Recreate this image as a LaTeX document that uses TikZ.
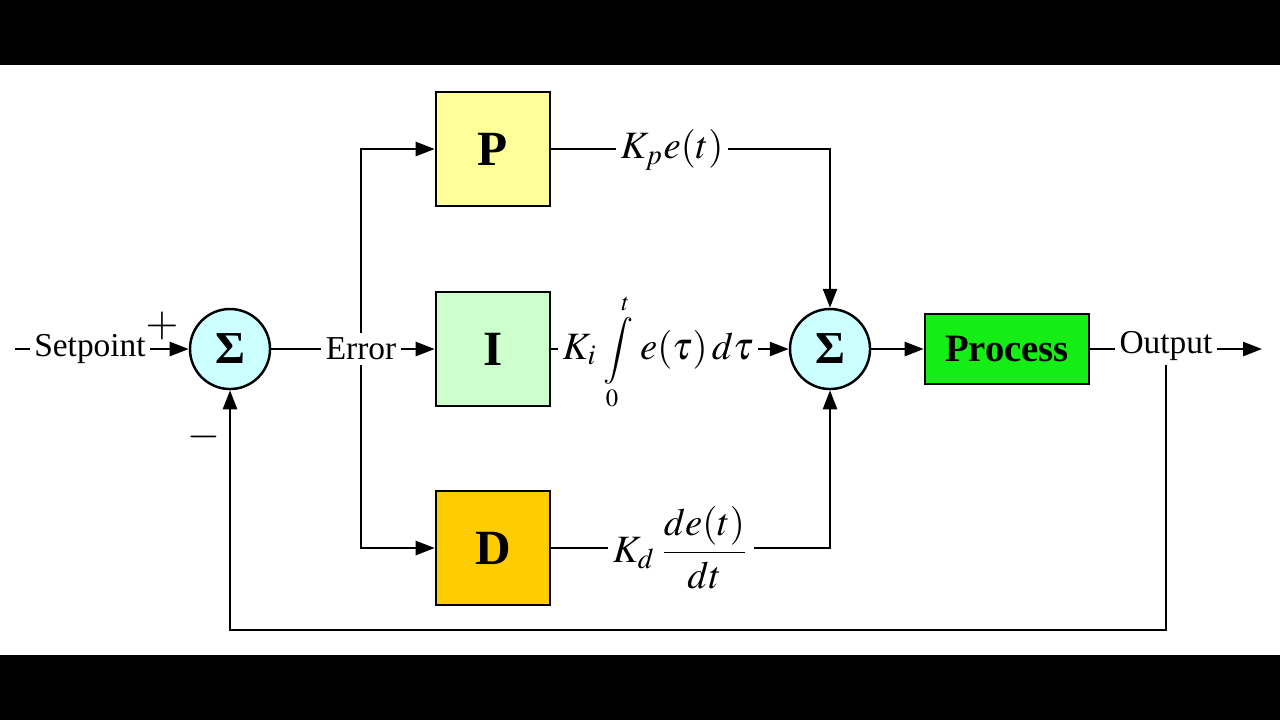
\documentclass[tikz,border=0pt]{standalone}
\usepackage{amsmath}
\usepackage{mathptmx}
\usepackage{fontspec}
\setmainfont{Liberation Serif}
\usetikzlibrary{arrows.meta}

\definecolor{sumcyan}{RGB}{204,255,255}
\definecolor{pyellow}{RGB}{255,255,153}
\definecolor{igreen}{RGB}{204,255,204}
\definecolor{dorange}{RGB}{255,204,0}
\definecolor{procgreen}{RGB}{20,238,20}

\begin{document}
\begin{tikzpicture}[x=0.01cm, y=-0.01cm, line width=0.7pt,
        >={Triangle[length=0.19cm,width=0.14cm]},
        sumnode/.style={circle, draw, fill=sumcyan, minimum size=0.8cm, inner sep=0pt,
            font=\bfseries\fontsize{13}{15}\selectfont},
        block/.style={draw, minimum width=1.14cm, minimum height=1.14cm,
            font=\bfseries\fontsize{14}{17}\selectfont},
        lbl/.style={fill=white, inner sep=1pt, font=\fontsize{9.5}{12}\selectfont},
        mlbl/.style={fill=white, inner sep=1pt, font=\fontsize{11}{13}\selectfont}]
    \useasboundingbox (0,0) rectangle (1280,720);
    \fill [black] (0,0) rectangle (1280,65);             % black bars
    \fill [black] (0,655) rectangle (1280,720);

    \node[sumnode] (s1) at (230,349) {Σ};                 % summing junctions
    \node[sumnode] (s2) at (830,349) {Σ};
    \node[block, fill=pyellow] (P) at (493,149) {P};      % three branches
    \node[block, fill=igreen] (I) at (493,349) {I};
    \node[block, fill=dorange] (D) at (493,548) {D};
    \node[draw, fill=procgreen, minimum width=1.64cm, minimum height=0.7cm,
          font=\bfseries\fontsize{11}{13}\selectfont] (proc) at (1007,349) {Process};

    \node[lbl] (sp) at (90,349) {Setpoint};
    \node[lbl] (err) at (361,349) {Error};
    \node[lbl] (out) at (1166,346) {Output};
    \node[mlbl] (kp) at (672,150) {$K_p e(t)$};
    \node[mlbl] (ki) at (658,352) {$K_i$\,{\fontsize{9.5}{11}\selectfont$\displaystyle\int\limits_0^t$}\,$e(\tau)\,d\tau$};
    \node[mlbl] (kd) at (681,548) {$K_d\,\dfrac{de(t)}{dt}$};
    \node[font=\fontsize{12}{14}\selectfont] at (162,326) {$+$};
    \node[font=\fontsize{12}{14}\selectfont] at (204,437) {$-$};
    \coordinate (sp0) at (15,349);
    \coordinate (end) at (1262,349);

    \draw (sp0) -- (sp.west);                             % input side
    \draw [->] (sp.east) -- (s1.west);
    \draw (s1.east) -- (err.west);
    \draw [->] (err.east) -- (I.west);
    \draw [->] (err.north) |- (P.west);
    \draw [->] (err.south) |- (D.west);

    \draw (P.east) -- (P.east -| kp.west);                % into second sum
    \draw [->] (kp.east |- P.east) -| (s2.north);
    \draw (I.east) -- (I.east -| ki.west);
    \draw [->] (ki.east |- s2.west) -- (s2.west);
    \draw (D.east) -- (kd.west);
    \draw [->] (kd.east) -| (s2.south);

    \draw [->] (s2.east) -- (proc.west);                  % output and feedback
    \draw (proc.east) -- (proc.east -| out.west);
    \draw [->] (out.east |- end) -- (end);
    \draw [->] (out.south) -- (1166,630) -| (s1.south);
\end{tikzpicture}
\end{document}
